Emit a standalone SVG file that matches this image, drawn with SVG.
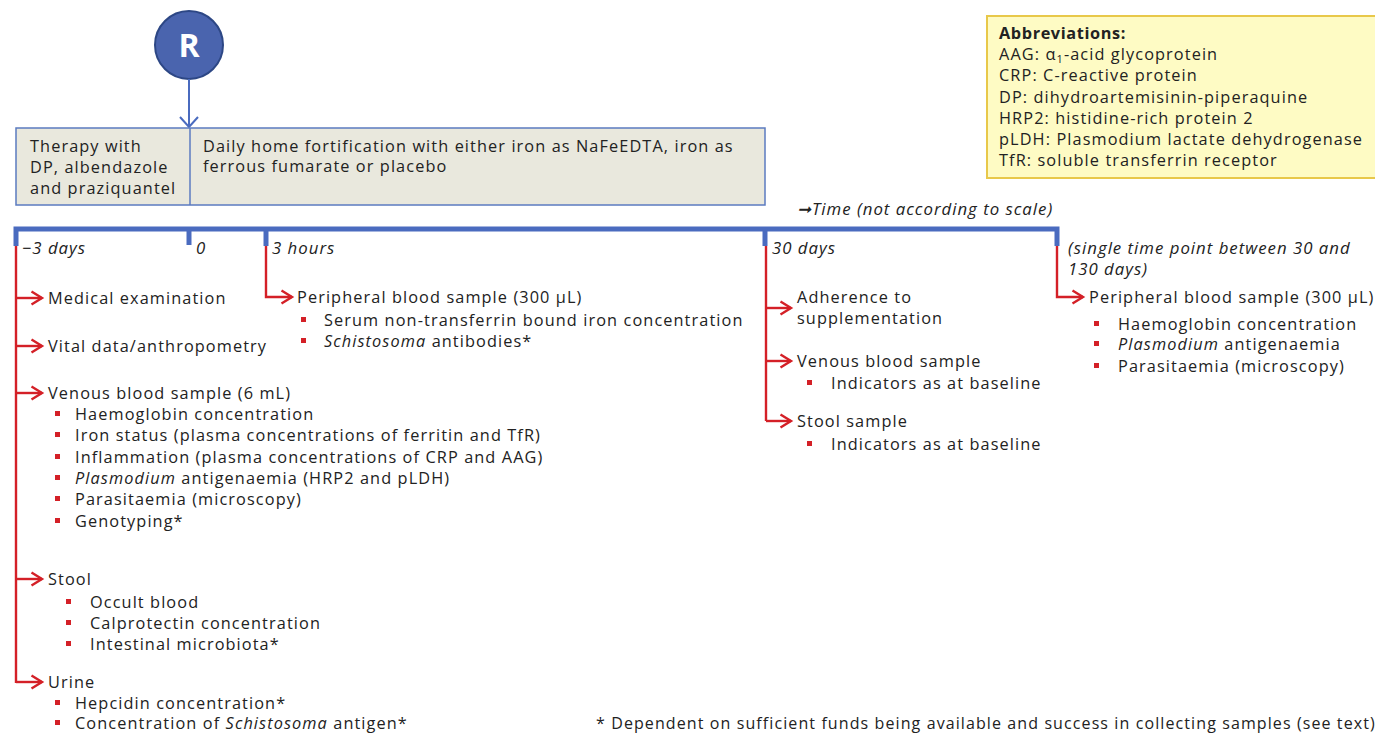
<svg xmlns="http://www.w3.org/2000/svg" width="1375" height="733" viewBox="0 0 1375 733">
<style>
.t{font-family:"Open Sans","Liberation Sans",sans-serif;font-size:16.3px;letter-spacing:1.1px;fill:#222222}
.it{font-style:italic}
.lbl{font-size:16.8px;letter-spacing:1px}
.b{font-weight:bold}
.red{stroke:#d42027;stroke-width:2.4;fill:none}
.blue{stroke:#4a6bbf;fill:none}
.bul{fill:#d42027}
</style>
<defs>
<marker id="ar" markerUnits="userSpaceOnUse" markerWidth="16" markerHeight="18" refX="12" refY="8" orient="auto">
<path d="M1.5,1.5 L12,8 L1.5,14.5" fill="none" stroke="#d42027" stroke-width="2.4"/>
</marker>
<marker id="ab" markerUnits="userSpaceOnUse" markerWidth="20" markerHeight="16" refX="10" refY="11" orient="0">
<path d="M1,1 L10,11 L19,1" fill="none" stroke="#4a6bbf" stroke-width="2"/>
</marker>
</defs>

<g id="R">
<circle cx="189" cy="45" r="34" fill="#4a64ae" stroke="#2d4785" stroke-width="2"/>
<text x="189" y="57" text-anchor="middle" style="font-family:'Open Sans','Liberation Sans',sans-serif;font-size:32px;font-weight:bold;fill:#ffffff">R</text>
</g>

<g id="connectors">
<line x1="189" y1="79" x2="189" y2="127" class="blue" stroke-width="2" marker-end="url(#ab)"/>
<path d="M16,246 L16,229 L1057,229 L1057,246" class="blue" stroke-width="5"/>
<line x1="189" y1="229" x2="189" y2="245" class="blue" stroke-width="5"/>
<line x1="266" y1="229" x2="266" y2="246" class="blue" stroke-width="5"/>
<line x1="765" y1="229" x2="765" y2="246" class="blue" stroke-width="5"/>
<line x1="16" y1="246" x2="16" y2="683" class="red"/>
<line x1="16" y1="298" x2="42" y2="298" class="red" marker-end="url(#ar)"/>
<line x1="16" y1="346" x2="42" y2="346" class="red" marker-end="url(#ar)"/>
<line x1="16" y1="393" x2="42" y2="393" class="red" marker-end="url(#ar)"/>
<line x1="16" y1="579" x2="42" y2="579" class="red" marker-end="url(#ar)"/>
<path d="M16,682 L42,682" class="red" marker-end="url(#ar)"/>
<path d="M266,246 L266,297 L292,297" class="red" marker-end="url(#ar)"/>
<line x1="766" y1="246" x2="766" y2="421" class="red"/>
<line x1="766" y1="308" x2="791" y2="308" class="red" marker-end="url(#ar)"/>
<line x1="766" y1="361" x2="791" y2="361" class="red" marker-end="url(#ar)"/>
<path d="M766,421 L791,421" class="red" marker-end="url(#ar)"/>
<path d="M1057,246 L1057,297 L1083,297" class="red" marker-end="url(#ar)"/>
</g>

<g id="therapyBox">
<rect x="16" y="128" width="749" height="77" fill="#e9e8dd" stroke="#5b7bc0" stroke-width="1.5"/>
<line x1="190" y1="128" x2="190" y2="205" stroke="#5b7bc0" stroke-width="1.5"/>
<text class="t" x="30" y="152">Therapy with</text>
<text class="t" x="30" y="173">DP, albendazole</text>
<text class="t" x="30" y="194">and praziquantel</text>
<text class="t" x="203" y="152">Daily home fortification with either iron as NaFeEDTA, iron as</text>
<text class="t" x="203" y="172">ferrous fumarate or placebo</text>
</g>

<g id="abbreviations">
<rect x="987" y="16" width="400" height="162" fill="#fefbc4" stroke="#e8c84a" stroke-width="2"/>
<text class="t b" x="999" y="39" style="letter-spacing:0.6px">Abbreviations:</text>
<text class="t" x="999" y="60">AAG: α<tspan font-size="11" dy="3">1</tspan><tspan dy="-3">-acid glycoprotein</tspan></text>
<text class="t" x="999" y="81">CRP: C-reactive protein</text>
<text class="t" x="999" y="103">DP: dihydroartemisinin-piperaquine</text>
<text class="t" x="999" y="124">HRP2: histidine-rich protein 2</text>
<text class="t" x="999" y="145">pLDH: Plasmodium lactate dehydrogenase</text>
<text class="t" x="999" y="166">TfR: soluble transferrin receptor</text>
</g>

<g id="timelineLabels">
<text class="t it lbl" x="797" y="215">➞Time (not according to scale)</text>
<text class="t it lbl" x="22" y="254">−3 days</text>
<text class="t it lbl" x="196" y="254">0</text>
<text class="t it lbl" x="272" y="254">3 hours</text>
<text class="t it lbl" x="772" y="254">30 days</text>
<text class="t it lbl" x="1068" y="254">(single time point between 30 and</text>
<text class="t it lbl" x="1068" y="275">130 days)</text>
</g>

<g id="baseline">
<text class="t" x="48" y="304">Medical examination</text>
<text class="t" x="48" y="352">Vital data/anthropometry</text>
<text class="t" x="48" y="399">Venous blood sample (6 mL)</text>
<rect class="bul" x="55" y="411" width="5" height="5"/>
<text class="t" x="75" y="420">Haemoglobin concentration</text>
<rect class="bul" x="55" y="432" width="5" height="5"/>
<text class="t" x="75" y="441">Iron status (plasma concentrations of ferritin and TfR)</text>
<rect class="bul" x="55" y="454" width="5" height="5"/>
<text class="t" x="75" y="463">Inflammation (plasma concentrations of CRP and AAG)</text>
<rect class="bul" x="55" y="475" width="5" height="5"/>
<text class="t" x="75" y="484"><tspan class="it">Plasmodium</tspan> antigenaemia (HRP2 and pLDH)</text>
<rect class="bul" x="55" y="496" width="5" height="5"/>
<text class="t" x="75" y="505">Parasitaemia (microscopy)</text>
<rect class="bul" x="55" y="518" width="5" height="5"/>
<text class="t" x="75" y="527">Genotyping*</text>
<text class="t" x="48" y="585">Stool</text>
<rect class="bul" x="66" y="599" width="5" height="5"/>
<text class="t" x="90" y="608">Occult blood</text>
<rect class="bul" x="66" y="620" width="5" height="5"/>
<text class="t" x="90" y="629">Calprotectin concentration</text>
<rect class="bul" x="66" y="641" width="5" height="5"/>
<text class="t" x="90" y="650">Intestinal microbiota*</text>
<text class="t" x="48" y="688">Urine</text>
<rect class="bul" x="55" y="700" width="5" height="5"/>
<text class="t" x="75" y="709">Hepcidin concentration*</text>
<rect class="bul" x="55" y="720" width="5" height="5"/>
<text class="t" x="75" y="729">Concentration of <tspan class="it">Schistosoma</tspan> antigen*</text>
</g>

<g id="hours3">
<text class="t" x="297" y="303">Peripheral blood sample (300 µL)</text>
<rect class="bul" x="301" y="317" width="5" height="5"/>
<text class="t" x="324" y="326">Serum non-transferrin bound iron concentration</text>
<rect class="bul" x="301" y="338" width="5" height="5"/>
<text class="t" x="324" y="347"><tspan class="it">Schistosoma</tspan> antibodies*</text>
</g>

<g id="days30">
<text class="t" x="797" y="303">Adherence to</text>
<text class="t" x="797" y="324">supplementation</text>
<text class="t" x="797" y="367">Venous blood sample</text>
<rect class="bul" x="807" y="380" width="5" height="5"/>
<text class="t" x="831" y="389">Indicators as at baseline</text>
<text class="t" x="797" y="427">Stool sample</text>
<rect class="bul" x="807" y="441" width="5" height="5"/>
<text class="t" x="831" y="450">Indicators as at baseline</text>
</g>

<g id="later">
<text class="t" x="1089" y="303">Peripheral blood sample (300 µL)</text>
<rect class="bul" x="1094" y="321" width="5" height="5"/>
<text class="t" x="1118" y="330">Haemoglobin concentration</text>
<rect class="bul" x="1094" y="341" width="5" height="5"/>
<text class="t" x="1118" y="350"><tspan class="it">Plasmodium</tspan> antigenaemia</text>
<rect class="bul" x="1094" y="363" width="5" height="5"/>
<text class="t" x="1118" y="372">Parasitaemia (microscopy)</text>
</g>

<g id="footnote">
<text class="t" x="596" y="729" style="font-size:16px">* Dependent on sufficient funds being available and success in collecting samples (see text)</text>
</g>
</svg>
